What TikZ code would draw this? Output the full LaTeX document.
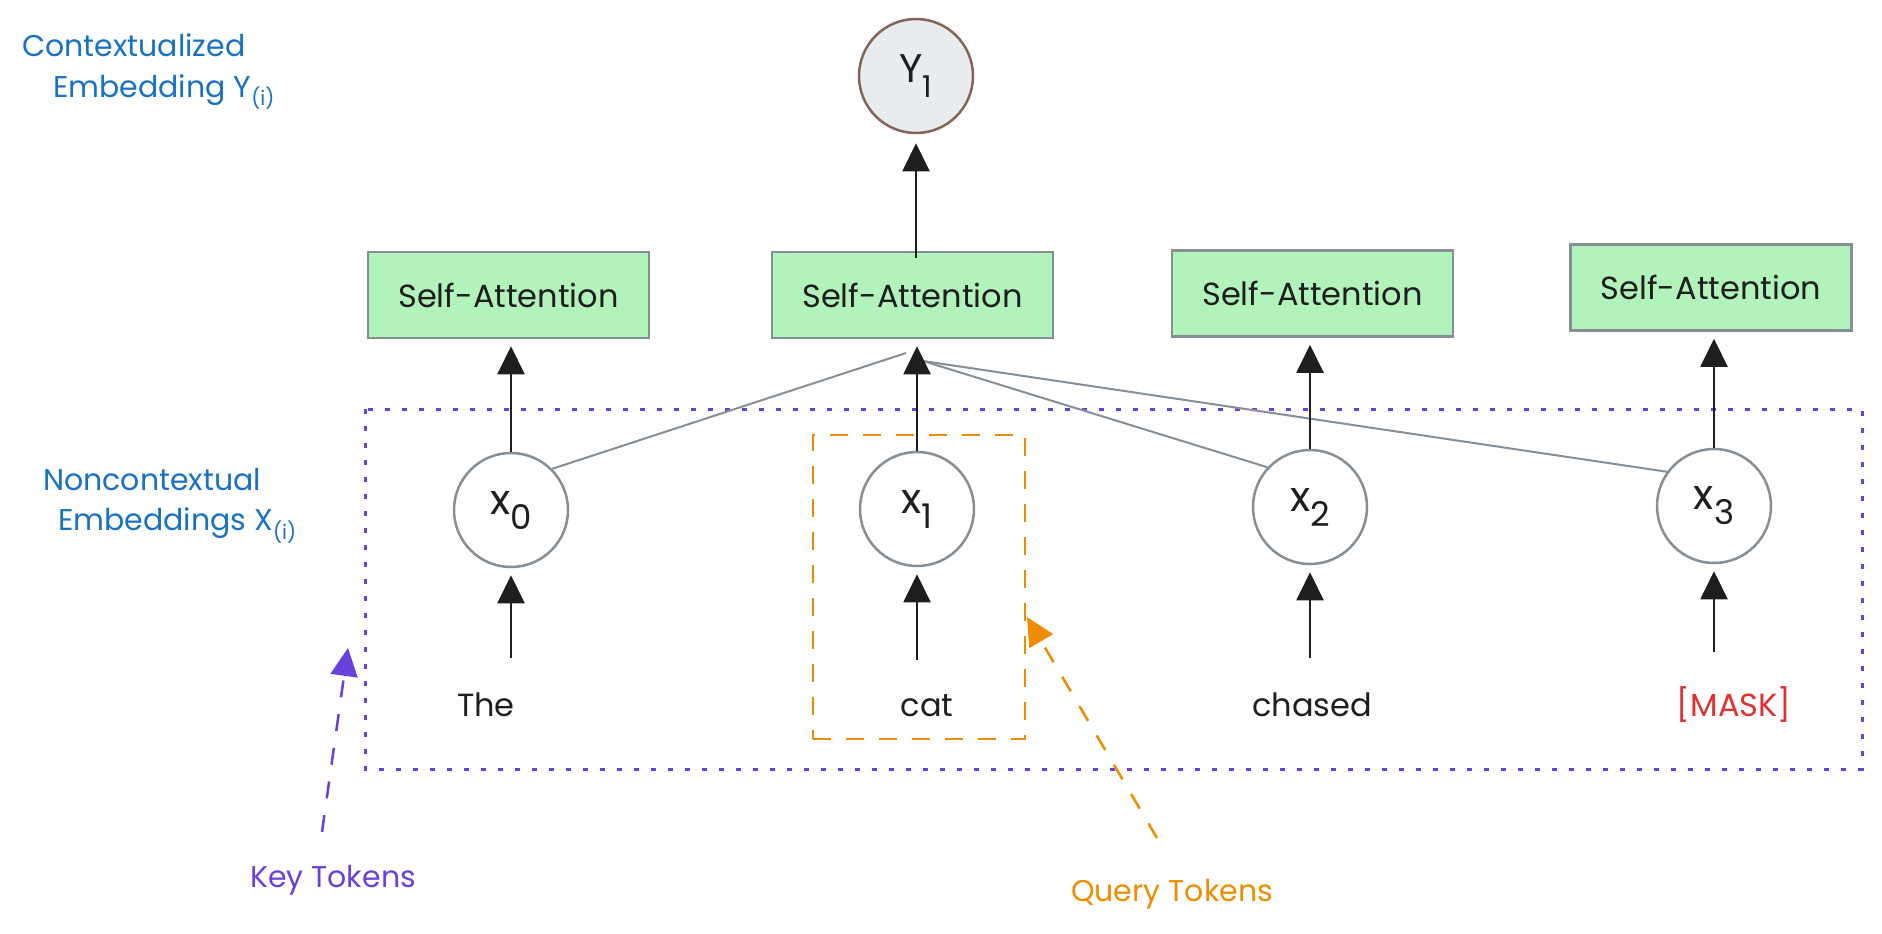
\documentclass[tikz,border=0pt]{standalone}
\usepackage{fontspec}
\setmainfont{Poppins}
\usetikzlibrary{arrows.meta}
\definecolor{ink}{HTML}{1E1E1E}
\definecolor{greyc}{HTML}{868E96}
\definecolor{greenc}{HTML}{B2F2BB}
\definecolor{bluec}{HTML}{1971C2}
\definecolor{purplec}{HTML}{6741D9}
\definecolor{orangec}{HTML}{F08C00}
\definecolor{redc}{HTML}{E03131}
\definecolor{yfill}{HTML}{E9ECEF}
\definecolor{ystroke}{HTML}{846358}
\newcommand{\fs}[1]{\fontsize{#1}{#1}\selectfont}
\begin{document}
\begin{tikzpicture}[x=1pt,y=-1pt,
  sabox/.style={draw=greyc, line width=2.5pt, fill=greenc, minimum width=281pt, minimum height=86pt, inner sep=0pt, font=\fs{32}, text=ink},
  xnode/.style={circle, draw=greyc, line width=2.5pt, fill=white, minimum size=114pt, inner sep=0pt, text=ink},
  arr/.style={draw=ink, line width=2pt, -{Triangle[width=27pt,length=28pt]}},
  word/.style={font=\fs{32}, text=ink, inner sep=0pt, anchor=base},
  attn/.style={draw=greyc, line width=2pt},
  lbl/.style={font=\fs{30}, text=bluec, inner sep=0pt, anchor=base west},
  keybox/.style={draw=purplec, line width=3pt, dash pattern=on 5pt off 12pt},
  qbox/.style={draw=orangec, line width=2.5pt, dash pattern=on 18pt off 15pt},
  karr/.style={draw=purplec, line width=2.5pt, dash pattern=on 17pt off 17pt, -{Triangle[width=27pt,length=28pt]}},
  qarr/.style={draw=orangec, line width=2.5pt, dash pattern=on 17pt off 17pt, -{Triangle[width=27pt,length=28pt]}},
]
\useasboundingbox (0,0) rectangle (1882,934);

% labels
\node[lbl] (ctx1) at (22,57) {Contextualized};
\node[lbl] (ctx2) at (53,97) {Embedding Y\raisebox{-9pt}{\fs{20}(i)}};
\node[lbl] (nctx1) at (43,490) {Noncontextual};
\node[lbl] (nctx2) at (58,530) {Embeddings X\raisebox{-9pt}{\fs{20}(i)}};

% containers
\draw[keybox] (365,409) rectangle (1862,769);
\node[qbox, minimum width=212pt, minimum height=304pt, inner sep=0pt] (qb) at (919,587) {};

% Self-attention boxes
\node[sabox] (sa0) at (508.5,295) {Self-Attention};
\node[sabox] (sa1) at (912.5,295) {Self-Attention};
\node[sabox] (sa2) at (1312.5,293.5) {Self-Attention};
\node[sabox] (sa3) at (1711,287.5) {Self-Attention};

% attention fan
\coordinate (hubL) at (906,353);
\coordinate (hubR) at (923,361);

% embedding circles
\node[xnode] (x0) at (511,510) {{\fs{42}x}\raisebox{-15pt}{\fs{34}0}};
\node[xnode] (x1) at (917,509) {{\fs{42}x}\raisebox{-15pt}{\fs{34}1}};
\node[xnode] (x2) at (1310,507) {{\fs{42}x}\raisebox{-15pt}{\fs{34}2}};
\node[xnode] (x3) at (1714,506) {{\fs{42}x}\raisebox{-15pt}{\fs{34}3}};

\draw[attn] (hubL) -- (x0.45);
\draw[attn] (hubR) -- (x2.137);
\draw[attn] (hubR) -- (x3.144);

% output
\node[circle, draw=ystroke, line width=2.5pt, fill=yfill, minimum size=114pt, inner sep=0pt, text=ink] (y1) at (916,76) {{\fs{40}Y}\raisebox{-15pt}{\fs{30}1}};

% words
\node[word] (w0) at (486,716) {The};
\node[word] (w1) at (927,716) {cat};
\node[word] (w2) at (1312,716) {chased};
\node[word, text=redc] (w3) at (1734,716) {[MASK]};

% arrows
\foreach \i in {0,1,2,3}{
  \draw[arr, shorten >=7pt] (x\i.north) -- (x\i.north |- sa\i.south);
  \draw[arr, shorten <=34pt, shorten >=7pt] (x\i.south |- w\i.north) -- (x\i.south);
}
\draw[arr, shorten <=-7pt, shorten >=9pt] (y1.south |- sa1.north) -- (y1.south);

% annotations
\node[font=\fs{30}, text=purplec, inner sep=0pt] (kt) at (333,880) {Key Tokens};
\node[font=\fs{30}, text=orangec, inner sep=0pt] (qt) at (1172,894) {Query Tokens};
\coordinate (ktail) at (322,832);
\coordinate (ktip) at (348,648);
\coordinate (qtail) at (1157,838);
\coordinate (qtip) at (1027,617);
\draw[karr] (ktail) -- (ktip);
\draw[qarr] (qtail) -- (qtip);
\end{tikzpicture}
\end{document}
